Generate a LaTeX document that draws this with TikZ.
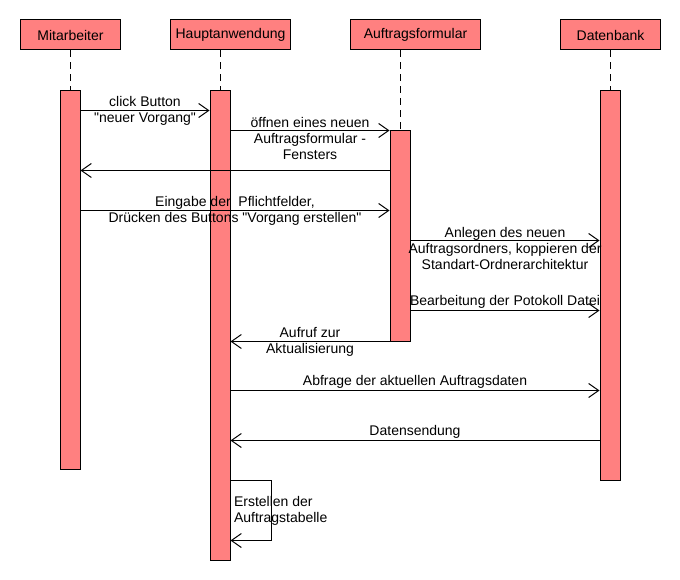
\documentclass[tikz,border=0pt]{standalone}
\usepackage{fontspec}
\setmainfont{Liberation Sans}
\usetikzlibrary{positioning,calc,arrows.meta}
\definecolor{lifered}{HTML}{FF8080}
\tikzstyle{actor} = [draw, rectangle, fill=lifered, minimum height=30pt, anchor=west, inner sep=0pt]
\tikzstyle{act} = [draw, rectangle, fill=lifered, minimum width=20pt, inner sep=0pt]
\tikzstyle{lifeline} = [dash pattern=on 7pt off 5pt]
\tikzstyle{msg} = [-{Straight Barb[length=10pt,width=14pt]}]
\tikzstyle{msgtext} = [align=center, inner sep=0pt]

\begin{document}
\begin{tikzpicture}[x=1pt,y=-1pt,line width=1pt,font=\fontsize{14}{16}\selectfont]
		\useasboundingbox (0,0) rectangle (680,580);

		% actors
		\node[actor,minimum width=100pt] (mit) at (20,35) {Mitarbeiter};
		\node[actor,minimum width=120pt] (haupt) at (170,35) {Hauptanwendung};
		\node[actor,minimum width=130pt] (auft) at (350,35) {Auftragsformular};
		\node[actor,minimum width=100pt] (dat) at (560,35) {Datenbank};

		% lifelines
		\node[coordinate,right= 50pt of mit.south west] (mitlife) {};
		\node[coordinate,right= 50pt of haupt.south west] (hauptlife) {};
		\node[coordinate,right= 50pt of auft.south west] (auftlife) {};
		\node[coordinate,right= 50pt of dat.south west] (datlife) {};

		% activations
		\node[act,minimum height=378pt,below= 40pt of mitlife] (mitact) {};
		\node[act,minimum height=469pt,below= 40pt of hauptlife] (hauptact) {};
		\node[act,minimum height=210pt,below= 80pt of auftlife] (auftact) {};
		\node[act,minimum height=389pt,below= 40pt of datlife] (datact) {};
		\draw[lifeline] (mitlife) -- (mitact.north);
		\draw[lifeline] (hauptlife) -- (hauptact.north);
		\draw[lifeline] (auftlife) -- (auftact.north);
		\draw[lifeline] (datlife) -- (datact.north);

		% message pins
		\node[coordinate,below= 20pt of mitact.north east] (mitpin0) {};
		\node[coordinate,below= 120pt of mitact.north east] (mitpin1) {};
		\node[coordinate,below= 40pt of hauptact.north east] (hauptpin0) {};
		\node[coordinate,below= 300pt of hauptact.north east] (hauptpin1) {};
		\node[coordinate,below= 390pt of hauptact.north east] (selfpin0) {};
		\node[coordinate,below= 450pt of hauptact.north east] (selfpin1) {};
		\node[coordinate,below= 40pt of auftact.north west] (auftpin0) {};
		\node[coordinate,below= 110pt of auftact.north east] (auftpin1) {};
		\node[coordinate,below= 180pt of auftact.north east] (auftpin2) {};
		\node[coordinate,below= 350pt of datact.north west] (datpin0) {};

		% join mit to haupt
		\draw[msg] (mitpin0) -- node[msgtext]{click Button\\\textquotedbl neuer Vorgang\textquotedbl} (mitpin0 -| hauptact.west);

		% join haupt to auft
		\draw[msg] (hauptpin0) -- node[msgtext,yshift=-8pt]{öffnen eines neuen\\Auftragsformular -\\Fensters} (hauptpin0 -| auftact.west);
		\draw[msg] (auftpin0) -- (auftpin0 -| mitact.east);
		\draw[msg] (mitpin1) -- node[msgtext]{Eingabe der\ \ Pflichtfelder,\\Drücken des Buttons \textquotedbl Vorgang erstellen\textquotedbl} (mitpin1 -| auftact.west);

		% join auft to dat
		\draw[msg] (auftpin1) -- node[msgtext,yshift=-8pt]{Anlegen des neuen\\Auftragsordners, koppieren der\\Standart-Ordnerarchitektur} (auftpin1 -| datact.west);
		\draw[msg] (auftpin2) -- node[msgtext,yshift=9pt]{Bearbeitung der Potokoll Datei} (auftpin2 -| datact.west);
		\draw[msg] (auftact.south west) -- node[msgtext]{Aufruf zur\\Aktualisierung} (auftact.south west -| hauptact.east);

		% join haupt to dat
		\draw[msg] (hauptpin1) -- node[msgtext,yshift=9pt]{Abfrage der aktuellen Auftragsdaten} (hauptpin1 -| datact.west);
		\draw[msg] (datpin0) -- node[msgtext,yshift=9pt]{Datensendung} (datpin0 -| hauptact.east);

		% self call
		\draw[msg] (selfpin0) -- ++(41,0) |- (selfpin1);
		\node[msgtext,align=left,anchor=west,xshift=3pt] (selftext) at ($(selfpin0)!0.5!(selfpin1)$) {Erstellen der\\Auftragstabelle};
	\end{tikzpicture}
\end{document}
